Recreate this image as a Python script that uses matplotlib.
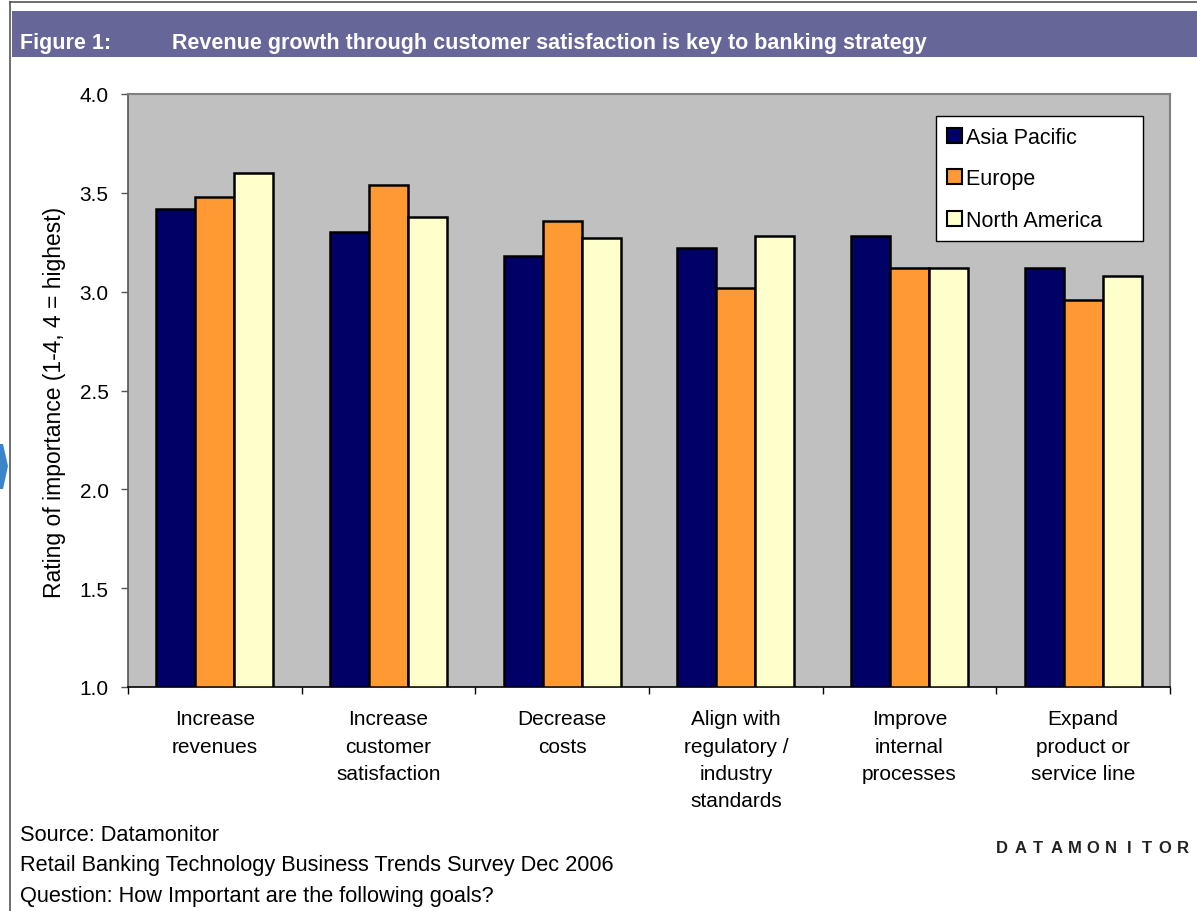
import numpy as np
import matplotlib.pyplot as plt
from matplotlib.patches import Rectangle, Polygon

categories = ['Increase\nrevenues', 'Increase\ncustomer\nsatisfaction',
              'Decrease\ncosts', 'Align with\nregulatory /\nindustry\nstandards',
              'Improve\ninternal\nprocesses', 'Expand\nproduct or\nservice line']
asia_pacific = [3.42, 3.30, 3.18, 3.22, 3.28, 3.12]
europe = [3.48, 3.54, 3.36, 3.02, 3.12, 2.96]
north_america = [3.60, 3.38, 3.27, 3.28, 3.12, 3.08]
series_names = ['Asia Pacific', 'Europe', 'North America']
yticks = [1.0, 1.5, 2.0, 2.5, 3.0, 3.5, 4.0]

COLORS = ['#000066', '#FF9933', '#FFFFCC']
W, H = 1197, 912

plt.rcParams['font.family'] = ['Liberation Sans', 'DejaVu Sans']

fig = plt.figure(figsize=(W / 100, H / 100), dpi=100)

# frame lines and title bar
fig.add_artist(plt.Line2D([10 / W, 10 / W], [0, 1 - 3 / H], color='#555555', lw=1.2))
fig.add_artist(plt.Line2D([10 / W, 1], [1 - 3 / H, 1 - 3 / H], color='#555555', lw=1.2))
fig.add_artist(Rectangle((12 / W, 1 - 58 / H), 1 - 12 / W, 46 / H,
                         facecolor='#666699', edgecolor='none'))
fig.text(20 / W, 1 - 44 / H, 'Figure 1:', color='white', fontsize=15.5,
         fontweight='bold', va='center')
fig.text(172 / W, 1 - 44 / H,
         'Revenue growth through customer satisfaction is key to banking strategy',
         color='white', fontsize=15.5, fontweight='bold', va='center')
# little blue marker at the left edge
fig.add_artist(Polygon([(0, 1 - 445 / H), (3 / W, 1 - 445 / H), (8 / W, 1 - 467 / H),
                        (3 / W, 1 - 490 / H), (0, 1 - 490 / H)],
                       closed=True, facecolor='#3a86c8', edgecolor='none'))

ax = fig.add_axes([128 / W, 1 - 688 / H, (1170 - 128) / W, (688 - 95) / H])
ax.set_facecolor('#C0C0C0')

x = np.arange(len(categories))
width = 0.225
for i, vals in enumerate([asia_pacific, europe, north_america]):
    ax.bar(x + (i - 1) * width, np.array(vals) - 1.0, width, bottom=1.0,
           color=COLORS[i], edgecolor='black', linewidth=1.8,
           label=series_names[i], zorder=3)

ax.set_xlim(-0.5, len(categories) - 0.5)
ax.set_ylim(1.0, 4.0)
ax.set_yticks(yticks)
ax.set_yticklabels([f'{v:.1f}' for v in yticks], fontsize=15)
ax.set_xticks(np.arange(len(categories) + 1) - 0.5, minor=False)
ax.set_xticklabels([])
ax.set_xticks(x, minor=True)
ax.set_xticklabels(categories, minor=True, fontsize=15, linespacing=1.56)
ax.tick_params(axis='x', which='minor', length=0, pad=16)
ax.tick_params(axis='x', which='major', length=5, direction='out', width=1)
ax.tick_params(axis='y', length=5, direction='out', width=1, pad=9, color='#555555')
for t in ax.get_xticklabels(minor=True):
    t.set_va('top')

for side in ['top', 'right']:
    ax.spines[side].set_color('#808080')
    ax.spines[side].set_linewidth(1.5)
ax.spines['left'].set_color('#555555')
ax.spines['left'].set_linewidth(1.2)
ax.spines['bottom'].set_color('black')
ax.spines['bottom'].set_linewidth(1.2)

ax.set_ylabel('Rating of importance (1-4, 4 = highest)', fontsize=16.5)
ax.yaxis.set_label_coords(-62 / (1170 - 128), 0.482)

handles, labels = ax.get_legend_handles_labels()
leg = ax.legend(handles, [l + '     ' for l in labels], loc='upper right',
                fontsize=15.5, frameon=True, fancybox=False, borderaxespad=0,
                handlelength=0.7, handleheight=0.7, handletextpad=0.2,
                labelspacing=0.95, borderpad=0.5, edgecolor='black',
                facecolor='white', framealpha=1.0)
leg.set_bbox_to_anchor((1143 / W, 1 - 117 / H), transform=fig.transFigure)
leg.get_frame().set_linewidth(1.0)
for h in leg.legend_handles:
    h.set_linewidth(1.5)

# footer
fig.text(20 / W, 1 - 836 / H, 'Source: Datamonitor', fontsize=15.7, va='center')
fig.text(20 / W, 1 - 866 / H, 'Retail Banking Technology Business Trends Survey Dec 2006',
         fontsize=15.7, va='center')
fig.text(20 / W, 1 - 897 / H, 'Question: How Important are the following goals?',
         fontsize=15.7, va='center')
for k, ch in enumerate('DATAMONITOR'):
    fig.text((1002 + k * 18.1) / W, 1 - 849 / H, ch, fontsize=12,
             fontweight='bold', ha='center', va='center', color='#222222')

fig.savefig('out.png', dpi=100)
